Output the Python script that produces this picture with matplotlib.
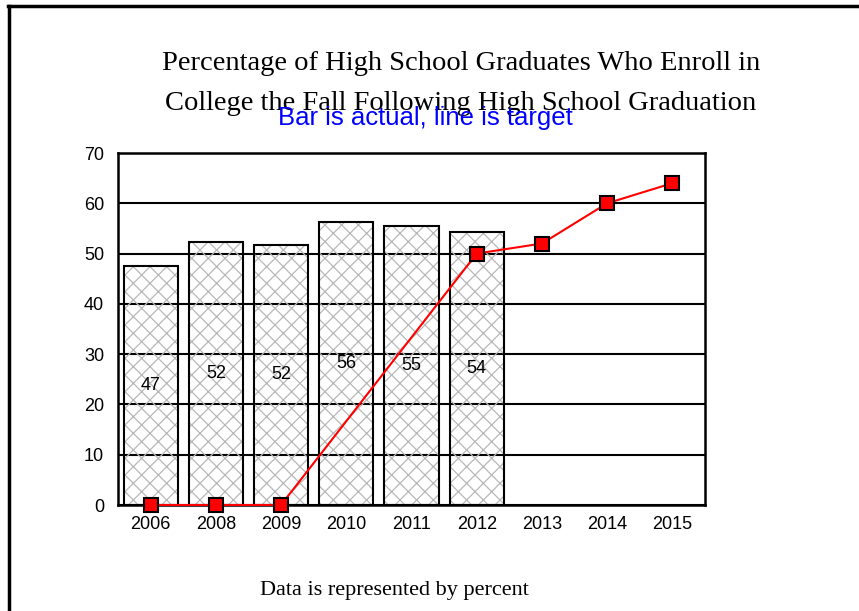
import matplotlib
matplotlib.use("Agg")
import matplotlib.pyplot as plt
from matplotlib.lines import Line2D
import numpy as np

years = ["2006", "2008", "2009", "2010", "2011", "2012", "2013", "2014", "2015"]
actual = [47.5, 52.3, 51.8, 56.2, 55.5, 54.3]
actual_labels = ["47", "52", "52", "56", "55", "54"]
target = [0, 0, 0, 50, 52, 60, 64]
target_years = ["2006", "2008", "2009", "2012", "2013", "2014", "2015"]

plt.rcParams['hatch.linewidth'] = 0.9

fig = plt.figure(figsize=(8.59, 6.11), dpi=100)
ax = fig.add_axes([118/859, 1-505/611, (705-118)/859, (505-153)/611])

x = np.arange(len(years))
xa = x[:len(actual)]
ax.set_axisbelow(True)
ax.yaxis.grid(True, color='black', linewidth=1.5)
ax.bar(xa, actual, width=0.83, facecolor='none', edgecolor='#b8b8b8',
       linewidth=0, hatch='xx', zorder=2)
ax.bar(xa, actual, width=0.83, facecolor='none', edgecolor='black',
       linewidth=1.5, zorder=2.5)
for xi, v, lab in zip(xa, actual, actual_labels):
    ax.text(xi, v/2, lab, ha='center', va='center', fontsize=13,
            family='Liberation Sans', zorder=3)

tx = [years.index(t) for t in target_years]
ax.plot(tx, target, color='red', linewidth=1.5, marker='s', markersize=10,
        markerfacecolor='red', markeredgecolor='black', markeredgewidth=1.5,
        zorder=4, clip_on=False)

ax.set_xlim(-0.5, len(years)-0.5)
ax.set_ylim(0, 70)
ax.set_yticks(range(0, 71, 10))
ax.set_xticks(x)
ax.set_xticklabels(years)
for lab in ax.get_xticklabels() + ax.get_yticklabels():
    lab.set_family('Liberation Sans')
    lab.set_fontsize(13)
ax.tick_params(axis='x', length=0, pad=8)
ax.tick_params(axis='y', length=0, pad=10)
for s in ax.spines.values():
    s.set_linewidth(1.8)

fig.text(461/859, 1-63/611, "Percentage of High School Graduates Who Enroll in",
         ha='center', va='center', fontsize=20.5, family='Liberation Serif')
fig.text(461/859, 1-104/611, "College the Fall Following High School Graduation",
         ha='center', va='center', fontsize=20.5, family='Liberation Serif')
fig.text(425/859, 1-118/611, "Bar is actual, line is target", ha='center', va='center',
         fontsize=18.5, color='#0000ff', family='Liberation Sans')
fig.text(394/859, 1-590/611, "Data is represented by percent", ha='center', va='center',
         fontsize=16, family='Liberation Serif')

fig.add_artist(Line2D([9/859, 9/859], [0, 1-6/611], transform=fig.transFigure,
                      color='black', linewidth=2.5))
fig.add_artist(Line2D([8/859, 1], [1-6/611, 1-6/611], transform=fig.transFigure,
                      color='black', linewidth=2.5))

fig.savefig("out.png", dpi=100)
